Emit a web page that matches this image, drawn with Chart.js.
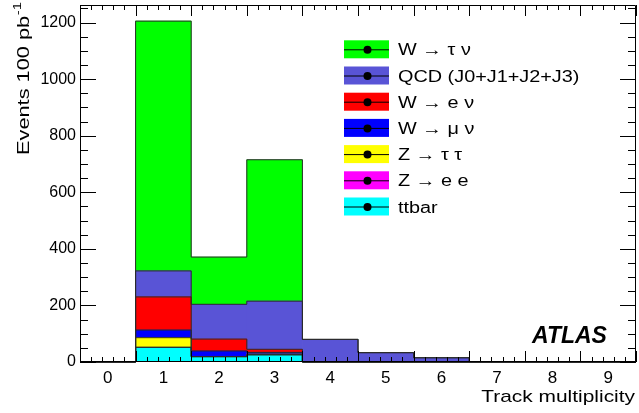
<!DOCTYPE html>
<html>
<head>
<meta charset="utf-8">
<script src="https://cdn.jsdelivr.net/npm/chart.js@4.4.1/dist/chart.umd.min.js"></script>
<style>
  html, body { margin: 0; padding: 0; background: #fff; }
  #c { display: block; }
</style>
</head>
<body>
<canvas id="c" width="639" height="413"></canvas>
<script>
// track multiplicity bins 0..9
const bins = ['0', '1', '2', '3', '4', '5', '6', '7', '8', '9'];

// stacked from the bottom up, events per 100 pb^-1
const ttbar   = [0, 52, 19, 25, 0, 0, 0, 0, 0, 0];
const zee     = [0, 0, 0, 1, 0, 0, 0, 0, 0, 0];
const ztautau = [0, 34, 0, 2, 0, 0, 0, 0, 0, 0];
const wmunu   = [0, 27, 20, 6, 0, 0, 0, 0, 0, 0];
const wenu    = [0, 117, 42, 11, 0, 0, 0, 0, 0, 0];
const qcd     = [0, 92, 123, 170, 80, 33, 15, 0, 0, 0];
const wtaunu  = [0, 883, 167, 500, 0, 0, 0, 0, 0, 0];

const yTicks = [0, 200, 400, 600, 800, 1000, 1200];

const FONT = '"Liberation Sans", Arial, Helvetica, sans-serif';

const series = [
    { label: 'ttbar', data: ttbar, color: '#00ffff' },
    { label: 'Z \u2192 e e', data: zee, color: '#ff00ff' },
    { label: 'Z \u2192 \u03c4 \u03c4', data: ztautau, color: '#ffff00' },
    { label: 'W \u2192 \u03bc \u03bd', data: wmunu, color: '#0000ff' },
    { label: 'W \u2192 e \u03bd', data: wenu, color: '#ff0000' },
    { label: 'QCD (J0+J1+J2+J3)', data: qcd, color: '#5954d6' },
    { label: 'W \u2192 \u03c4 \u03bd', data: wtaunu, color: '#00ff00' }
];

// text drawn a bit wider than the canvas font, like the original
function wideText(ctx, txt, x, y, font, sx, align) {
    ctx.save();
    ctx.font = font;
    ctx.translate(x, y);
    ctx.scale(sx, 1);
    ctx.textAlign = align || 'left';
    ctx.textBaseline = 'alphabetic';
    ctx.fillText(txt, 0, 0);
    ctx.restore();
}

const rootStyle = {
    id: 'rootStyle',
    afterDatasetsDraw(chart) {
        const ctx = chart.ctx;
        const xs = chart.scales.x;
        const ys = chart.scales.y;
        const area = chart.chartArea;

        // step outlines of each cumulative histogram
        const cum = bins.map(() => 0);
        ctx.save();
        ctx.strokeStyle = '#2b2b2b';
        ctx.lineWidth = 1;
        series.forEach(s => {
            s.data.forEach((v, i) => { cum[i] += v; });
            ctx.beginPath();
            ctx.moveTo(xs.getPixelForValue(-0.5), ys.getPixelForValue(0));
            cum.forEach((v, i) => {
                ctx.lineTo(xs.getPixelForValue(i - 0.5), ys.getPixelForValue(v));
                ctx.lineTo(xs.getPixelForValue(i + 0.5), ys.getPixelForValue(v));
            });
            ctx.lineTo(xs.getPixelForValue(bins.length - 0.5), ys.getPixelForValue(0));
            ctx.stroke();
        });

        // frame and inward ticks
        ctx.strokeStyle = '#000';
        ctx.beginPath();
        ctx.rect(area.left + 0.5, area.top + 0.5, area.right - area.left - 1, area.bottom - area.top - 1);
        for (let v = 0; v <= ys.max; v += 50) {
            const py = Math.round(ys.getPixelForValue(v)) + 0.5;
            const len = v % 200 === 0 ? 16 : 8;
            ctx.moveTo(area.left, py); ctx.lineTo(area.left + len, py);
            ctx.moveTo(area.right, py); ctx.lineTo(area.right - len, py);
        }
        for (let k = 0; k <= bins.length * 5; k++) {
            const px = Math.round(xs.getPixelForValue(-0.5 + k * 0.2)) + 0.5;
            const len = k % 5 === 0 ? 11 : 5;
            ctx.moveTo(px, area.bottom); ctx.lineTo(px, area.bottom - len);
            ctx.moveTo(px, area.top); ctx.lineTo(px, area.top + len);
        }
        ctx.stroke();

        // legend: box with line and marker
        const top = 49.3, step = 26.2;
        series.slice().reverse().forEach((s, j) => {
            const cy = top + j * step;
            ctx.fillStyle = s.color;
            ctx.fillRect(344, cy - 9, 45, 18);
            ctx.strokeStyle = '#000';
            ctx.beginPath();
            ctx.moveTo(344, cy + 0.5); ctx.lineTo(389, cy + 0.5);
            ctx.stroke();
            ctx.fillStyle = '#000';
            ctx.beginPath();
            ctx.arc(367.5, cy + 0.5, 4, 0, Math.PI * 2);
            ctx.fill();
            wideText(ctx, s.label, 398, cy + 6, '16px ' + FONT, 1.24);
        });

        // axis titles and label
        ctx.fillStyle = '#000';
        wideText(ctx, 'Track multiplicity', 635, 402, '17px ' + FONT, 1.23, 'right');
        wideText(ctx, 'ATLAS', 532, 343, 'italic bold 23px ' + FONT, 1.0);

        ctx.save();
        ctx.translate(28.5, 155);
        ctx.rotate(-Math.PI / 2);
        ctx.scale(1.36, 1);
        ctx.font = '16px ' + FONT;
        ctx.textAlign = 'left';
        ctx.textBaseline = 'alphabetic';
        const main = 'Events 100 pb';
        ctx.fillText(main, 0, 0);
        const w = ctx.measureText(main).width;
        ctx.font = '11px ' + FONT;
        ctx.fillText('-1', w + 0.5, -8);
        ctx.restore();
        ctx.restore();
    }
};

new Chart(document.getElementById('c'), {
    type: 'bar',
    data: {
        labels: bins,
        datasets: series.map(s => ({
            label: s.label,
            data: s.data,
            backgroundColor: s.color,
            borderWidth: 0,
            barPercentage: 1,
            categoryPercentage: 1
        }))
    },
    options: {
        responsive: false,
        animation: false,
        layout: { padding: { top: 5, right: 3, left: 0, bottom: 0 } },
        plugins: {
            legend: { display: false },
            tooltip: { enabled: false }
        },
        scales: {
            x: {
                stacked: true,
                grid: { display: false, drawTicks: false },
                border: { display: false },
                ticks: { color: '#000', padding: 6, font: { family: FONT, size: 17 } },
                afterFit: s => { s.height = 51; s.paddingLeft = 0; s.paddingRight = 0; }
            },
            y: {
                stacked: true,
                min: 0,
                max: 1262,
                grid: { display: false, drawTicks: false },
                border: { display: false },
                afterBuildTicks: s => { s.ticks = yTicks.map(v => ({ value: v })); },
                ticks: {
                    color: '#000', padding: 4, font: { family: FONT, size: 16 },
                    callback: v => String(v)
                },
                afterFit: s => { s.width = 80; s.paddingTop = 0; s.paddingBottom = 0; }
            }
        }
    },
    plugins: [rootStyle]
});
</script>
</body>
</html>
